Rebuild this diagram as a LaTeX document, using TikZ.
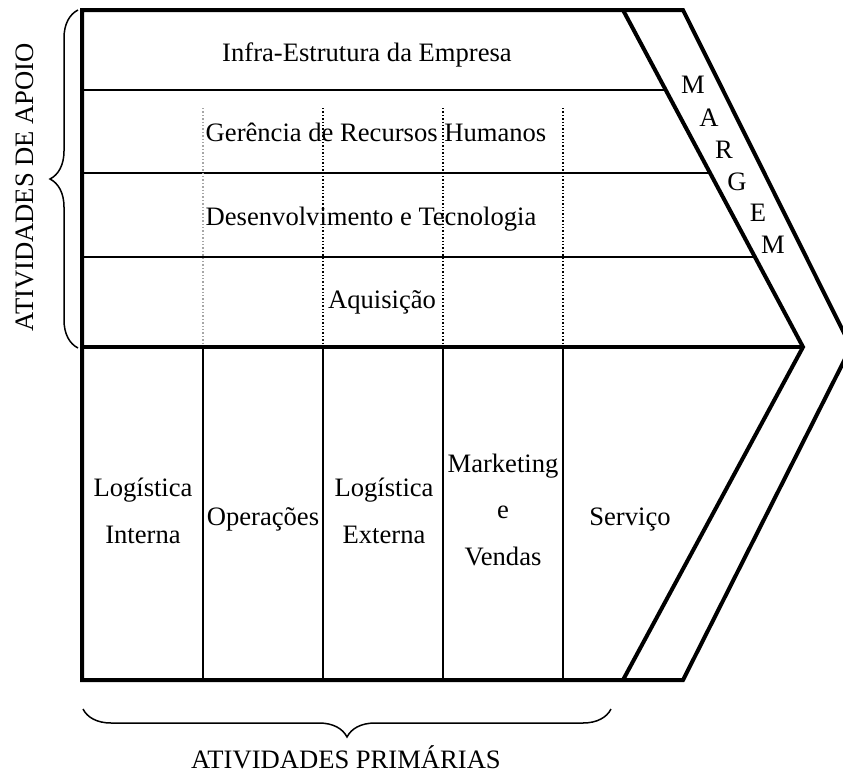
\documentclass[tikz,border=0pt]{standalone}
\usepackage{fontspec}
\setmainfont{Liberation Serif}
\usetikzlibrary{decorations.pathreplacing,calc}
\begin{document}
\begin{tikzpicture}[x=1pt,y=-1pt,
  thick frame/.style={line width=4pt,line join=miter},
  thin line/.style={line width=1.6pt},
  dot line/.style={line width=1.4pt,dotted},
  lbl/.style={font=\fontsize{26.6}{46.5}\selectfont,inner sep=0pt,anchor=base,align=center},
  letter/.style={font=\fontsize{26.6}{30}\selectfont,inner sep=0pt},
  bracestyle/.style={line width=1.5pt,decorate,decoration={brace,amplitude=28pt}}]
\useasboundingbox (0,0) rectangle (843,782);
\clip (0,0) rectangle (843,782);
% key points
\coordinate (tl) at (82,10);
\coordinate (bl) at (82,680);
\coordinate (ml) at (82,347);
\coordinate (otop) at (683,10);
\coordinate (otip) at (851,347);
\coordinate (obot) at (683,680);
\coordinate (itop) at (623,10);
\coordinate (itip) at (803,347);
\coordinate (ibot) at (623,680);
% support rows
\draw[thin line] (82,90) -- ($(itop)!80/337!(itip)$);
\draw[thin line] (82,173) -- ($(itop)!163/337!(itip)$);
\draw[thin line] (82,257) -- ($(itop)!247/337!(itip)$);
% dotted verticals
\draw[dot line,gray!70] (203,108) -- (203,347);
\foreach \x in {323,443,563} \draw[dot line] (\x,108) -- (\x,347);
% primary columns
\foreach \x in {203,323,443,563} \draw[thin line] (\x,347) -- (\x,680);
% frame
\draw[thick frame] (bl) -- (tl) -- (otop) -- (otip) -- (obot) -- cycle;
\draw[thick frame] (itop) -- (itip) -- (ibot);
\draw[thick frame] (ml) -- (itip);
% support labels
\node[lbl] (infra) at (367,61) {Infra-Estrutura da Empresa};
\node[lbl] (rh) at (376,141) {Gerência de Recursos Humanos};
\node[lbl] (dt) at (371,225) {Desenvolvimento e Tecnologia};
\node[lbl] (aq) at (382,308) {Aquisição};
% primary labels
\node[lbl] (li) at (143,543) {Logística\\Interna};
\node[lbl] (op) at (263,525) {Operações};
\node[lbl] (le) at (384,543) {Logística\\Externa};
\node[lbl] (mv) at (503,565) {Marketing\\e\\Vendas};
\node[lbl] (sv) at (630,525) {Serviço};
% margem letters
\node[letter] (m1) at (693,85) {M};
\node[letter] (m2) at (709,118) {A};
\node[letter] (m3) at (724,150) {R};
\node[letter] (m4) at (737,182) {G};
\node[letter] (m5) at (758,213) {E};
\node[letter] (m6) at (773,245) {M};
% braces
\draw[bracestyle] (78,348) -- (78,10);
\draw[bracestyle] (611,709) -- (83,709);
\node[letter,rotate=90] (apoio) at (25,187) {ATIVIDADES DE APOIO};
\node[lbl] (prim) at (346,768) {ATIVIDADES PRIMÁRIAS};
\end{tikzpicture}
\end{document}
